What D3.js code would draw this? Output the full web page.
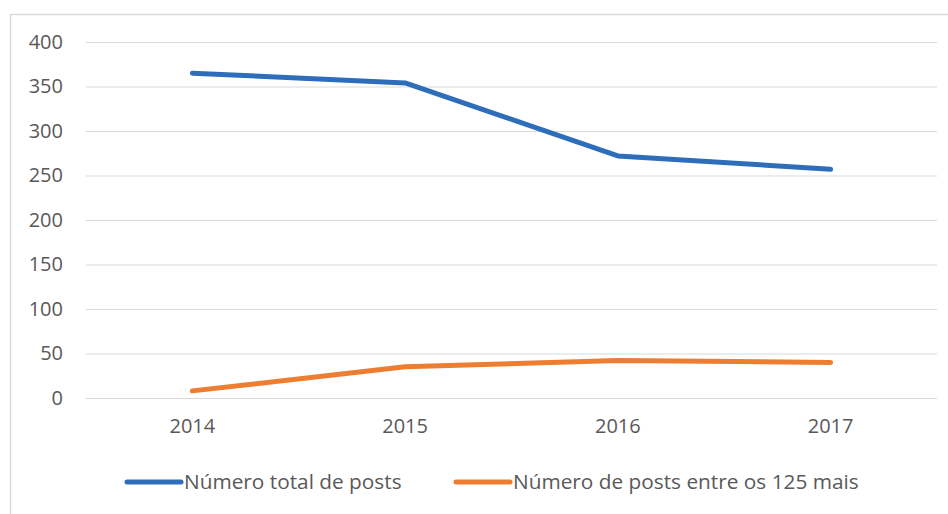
<!DOCTYPE html>
<html>
<head>
<meta charset="utf-8">
<script src="https://cdn.jsdelivr.net/npm/d3@7/dist/d3.min.js"></script>
<style>
  html, body { margin: 0; padding: 0; background: #fff; }
  svg { display: block; }
  text { font-family: "Open Sans", "Noto Sans", sans-serif; fill: #595959; }
</style>
</head>
<body>
<svg id="chart" width="948" height="514"></svg>
<script>
const years = ["2014", "2015", "2016", "2017"];
const totalPosts = [365, 354, 272, 257];
const topPosts = [8, 35, 42, 40];
const yTicks = [0, 50, 100, 150, 200, 250, 300, 350, 400];
const seriesNames = ["Número total de posts", "Número de posts entre os 125 mais"];
const seriesColors = ["#2e6dba", "#ed7d31"];

const svg = d3.select("#chart");
const W = 948, H = 514;
const plot = { left: 86, right: 937, top: 42, bottom: 398 };

// frame
svg.append("path")
  .attr("d", `M10.5,${H} L10.5,14.5 L${W},14.5`)
  .attr("fill", "none")
  .attr("stroke", "#d9d9d9")
  .attr("stroke-width", 1.5);

const x = d3.scaleBand().domain(years).range([plot.left, plot.right]);
const y = d3.scaleLinear().domain([0, 400]).range([plot.bottom, plot.top]);
const cx = d => x(d) + x.bandwidth() / 2;

// grid
const yAxis = d3.axisLeft(y).tickValues(yTicks).tickSize(-(plot.right - plot.left)).tickPadding(23);
const gy = svg.append("g").attr("transform", `translate(${plot.left},0)`).call(yAxis);
gy.select(".domain").remove();
gy.selectAll(".tick line").attr("stroke", "#d9d9d9").attr("stroke-width", 1);
gy.selectAll(".tick text").attr("font-size", "20px").attr("fill", "#595959")
  .attr("font-family", '"Open Sans", "Noto Sans", sans-serif');

// x axis labels
const xAxis = d3.axisBottom(x).tickSize(0).tickPadding(21);
const gx = svg.append("g").attr("transform", `translate(0,${plot.bottom})`).call(xAxis);
gx.select(".domain").remove();
gx.selectAll(".tick text").attr("font-size", "20px").attr("fill", "#595959")
  .attr("font-family", '"Open Sans", "Noto Sans", sans-serif');

// lines
const line = d3.line().x((d, i) => cx(years[i])).y(d => y(d));
[totalPosts, topPosts].forEach((s, k) => {
  svg.append("path")
    .datum(s)
    .attr("d", line)
    .attr("fill", "none")
    .attr("stroke", seriesColors[k])
    .attr("stroke-width", 5)
    .attr("stroke-linecap", "round")
    .attr("stroke-linejoin", "round");
});

// legend
const legendItems = [
  { x1: 127, x2: 181, tx: 184 },
  { x1: 456, x2: 510, tx: 513 }
];
const ly = 482;
legendItems.forEach((it, k) => {
  svg.append("line")
    .attr("x1", it.x1).attr("x2", it.x2)
    .attr("y1", ly).attr("y2", ly)
    .attr("stroke", seriesColors[k])
    .attr("stroke-width", 5)
    .attr("stroke-linecap", "round");
  svg.append("text")
    .attr("x", it.tx).attr("y", ly)
    .attr("dy", "0.35em")
    .attr("font-size", "20.8px")
    .text(seriesNames[k]);
});
</script>
</body>
</html>
